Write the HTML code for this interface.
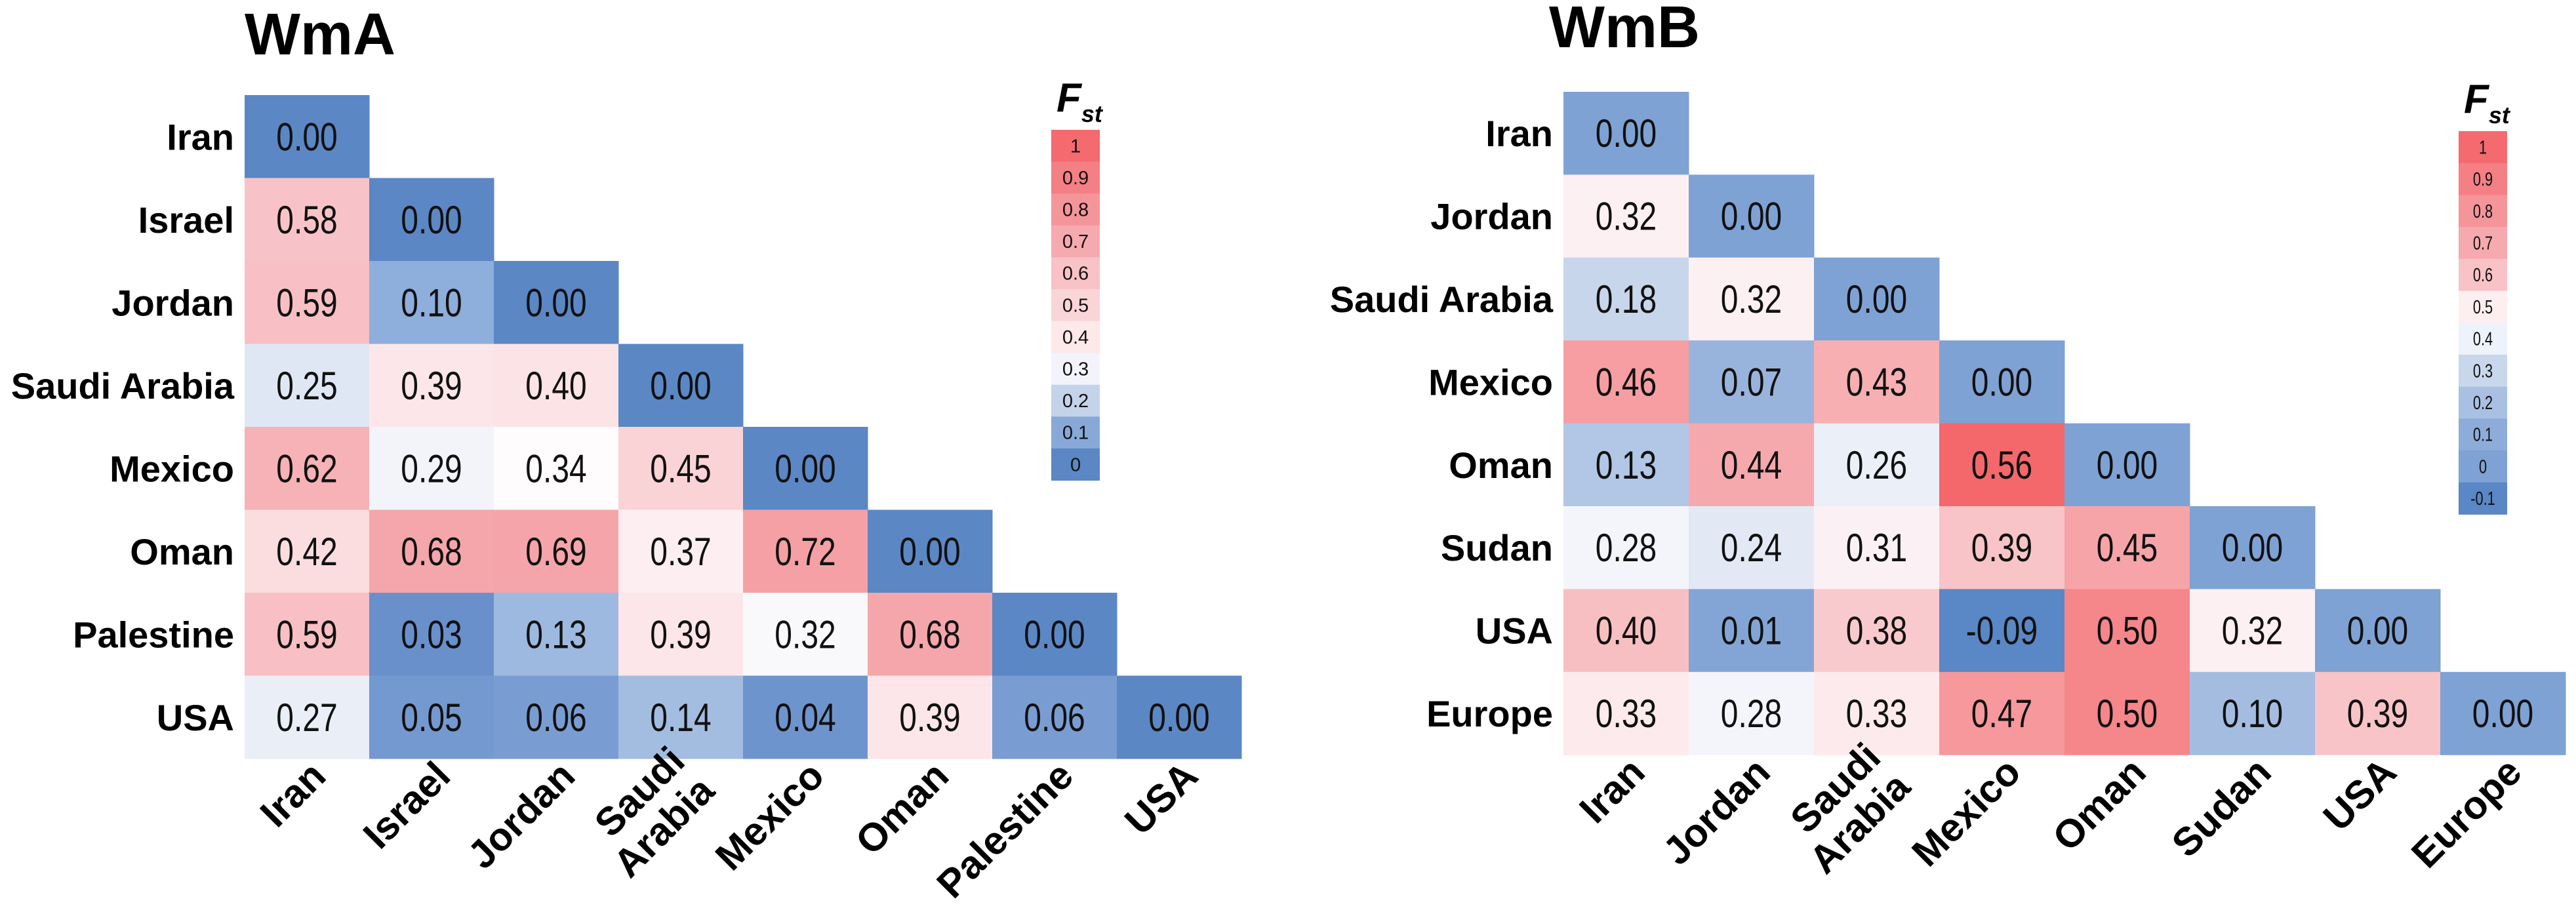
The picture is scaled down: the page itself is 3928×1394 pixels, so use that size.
<!DOCTYPE html>
<html><head><meta charset="utf-8"><style>
html,body{margin:0;padding:0;background:#fff;}
svg{display:block;font-family:"Liberation Sans",Arial,sans-serif;}
</style></head><body>
<svg id="fig" width="3928" height="1394" viewBox="0 0 3928 1394" xmlns="http://www.w3.org/2000/svg">
<rect width="3928" height="1394" fill="#fff"/>
</svg>
<script>
const wmaLabels = ["Iran","Israel","Jordan","Saudi Arabia","Mexico","Oman","Palestine","USA"];
const wmaValues = [
  [0.00],
  [0.58,0.00],
  [0.59,0.10,0.00],
  [0.25,0.39,0.40,0.00],
  [0.62,0.29,0.34,0.45,0.00],
  [0.42,0.68,0.69,0.37,0.72,0.00],
  [0.59,0.03,0.13,0.39,0.32,0.68,0.00],
  [0.27,0.05,0.06,0.14,0.04,0.39,0.06,0.00]
];
const wmbLabels = ["Iran","Jordan","Saudi Arabia","Mexico","Oman","Sudan","USA","Europe"];
const wmbValues = [
  [0.00],
  [0.32,0.00],
  [0.18,0.32,0.00],
  [0.46,0.07,0.43,0.00],
  [0.13,0.44,0.26,0.56,0.00],
  [0.28,0.24,0.31,0.39,0.45,0.00],
  [0.40,0.01,0.38,-0.09,0.50,0.32,0.00],
  [0.33,0.28,0.33,0.47,0.50,0.10,0.39,0.00]
];
const wmaLegendTicks = ["1","0.9","0.8","0.7","0.6","0.5","0.4","0.3","0.2","0.1","0"];
const wmaLegendColors = ["#f46a6e","#f47f84","#f4959a","#f5aaaf","#f8c2c6","#fad5d8","#fde8ea","#f3f4fb","#c4d3ea","#88a9d8","#5b87c5"];
const wmbLegendTicks = ["1","0.9","0.8","0.7","0.6","0.5","0.4","0.3","0.2","0.1","0","-0.1"];
const wmbLegendColors = ["#f46a6e","#f47f84","#f4959a","#f5aaaf","#f8c2c6","#fdeef0","#eef2fa","#c9d7ec","#aac0e2","#8eacd9","#7ea2d4","#5a87c5"];

const NS="http://www.w3.org/2000/svg";
const svg=document.getElementById('fig');
function mk(tag,attrs,parent){const e=document.createElementNS(NS,tag);for(const k in attrs)e.setAttribute(k,attrs[k]);(parent||svg).appendChild(e);return e;}
function hex(h){return [1,3,5].map(i=>parseInt(h.substr(i,2),16));}
function scaleColor(stops,v){
  if(v<=stops[0][0])return stops[0][1];
  for(let i=1;i<stops.length;i++){
    if(v<=stops[i][0]){const a=stops[i-1],b=stops[i];const t=(v-a[0])/(b[0]-a[0]);
      const c1=hex(a[1]),c2=hex(b[1]);return 'rgb('+c1.map((c,j)=>Math.round(c+(c2[j]-c)*t)).join(',')+')';}
  }
  return stops[stops.length-1][1];
}
const stopsA=[[0,"#5b87c5"],[0.03,"#6990cb"],[0.1,"#8eaedb"],[0.14,"#a3bde0"],[0.25,"#e0e7f4"],[0.29,"#f2f4fa"],[0.34,"#fefcfd"],[0.39,"#fde6e9"],[0.42,"#fbdde0"],[0.45,"#fad3d6"],[0.58,"#f8c3c8"],[0.62,"#f6b2b6"],[0.68,"#f5a6ab"],[0.72,"#f5a0a5"]];
const stopsB=[[-0.09,"#5a87c5"],[0,"#7fa2d4"],[0.1,"#a4bce0"],[0.18,"#c8d6ec"],[0.28,"#f4f5fb"],[0.32,"#fdf0f2"],[0.39,"#f8c4c7"],[0.45,"#f6a4a8"],[0.5,"#f5868a"],[0.56,"#f4686b"]];

function drawPanel(opt){
  const g=mk('g',{});
  
  
  const t=mk('text',{x:opt.titleX,y:opt.titleY,'font-size':90,'font-weight':'bold'},g);
  t.textContent=opt.title;
  
  
  const xs=i=>opt.left+i*opt.cw, ys=i=>opt.top+i*opt.rh;
  opt.values.forEach((row,r)=>{
    const lab=mk('text',{x:opt.left-16,y:ys(r)+opt.rh/2+20,'font-size':56,'font-weight':'bold','text-anchor':'end'},g);
    lab.textContent=opt.labels[r];
    
    
    row.forEach((v,c)=>{
      const rc=mk('rect',{x:xs(c),y:ys(r),width:opt.cw+0.5,height:opt.rh+0.5,fill:scaleColor(opt.stops,v)},g);
      
      
      const tx=mk('text',{transform:'translate('+(xs(c)+opt.cw/2)+','+(ys(r)+opt.rh/2+21)+') scale(0.8,1)','font-size':60,'text-anchor':'middle',fill:'#111'},g);
      tx.textContent=v.toFixed(2);
      
      
    });
  });
  const by=opt.top+opt.labels.length*opt.rh+30;
  opt.labels.forEach((l,i)=>{
    const cx=xs(i)+opt.cw/2+32;
    const tt=mk('text',{transform:'translate('+cx+','+by+') rotate(-45)','font-size':60,'font-weight':'bold','text-anchor':'end'},g);
    
    
    const parts=l.split(' ');
    if(parts.length===2){
      const a=mk('tspan',{x:0,y:-32},tt);a.textContent=parts[0];
      const b=mk('tspan',{x:0,y:32},tt);b.textContent=parts[1];
    } else {
      const a=mk('tspan',{x:0,y:0},tt);a.textContent=l;
    }
  });
  const lg=mk('g',{},g);
  
  
  const F=mk('text',{x:opt.legX+8,y:opt.legTop-28,'font-size':62,'font-weight':'bold','font-style':'italic'},lg);
  F.textContent='F';
  const st=mk('tspan',{dy:16,'font-size':36},F);st.textContent='st';
  opt.legTicks.forEach((tk,i)=>{
    const y=opt.legTop+i*opt.legH;
    mk('rect',{x:opt.legX,y:y,width:74,height:opt.legH+0.5,fill:opt.legColors[i]},lg);
    const tx=mk('text',{transform:'translate('+(opt.legX+37)+','+(y+opt.legH/2+10)+') scale('+opt.legSx+',1)','font-size':29,'text-anchor':'middle',fill:'#111'},lg);
    tx.textContent=tk;
  });
}
drawPanel({name:'wma',title:'WmA',titleX:373,titleY:83,left:373,top:145,cw:190,rh:126.5,labels:wmaLabels,values:wmaValues,stops:stopsA,legX:1603,legTop:198,legH:48.6,legTicks:wmaLegendTicks,legColors:wmaLegendColors,legSx:1});
drawPanel({name:'wmb',title:'WmB',titleX:2362,titleY:72,left:2384,top:140,cw:191,rh:126.4,labels:wmbLabels,values:wmbValues,stops:stopsB,legX:3749,legTop:200,legH:48.7,legTicks:wmbLegendTicks,legColors:wmbLegendColors,legSx:0.75});
</script>
</body></html>
